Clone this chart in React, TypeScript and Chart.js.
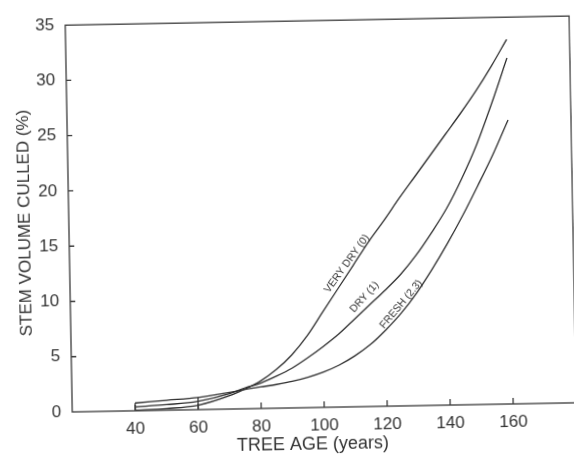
import React, { useEffect, useRef } from "react";
import { Chart, registerables } from "chart.js";

Chart.register(...registerables);

// ---- data ----
const ages = [40, 50, 60, 70, 75, 80, 85, 90, 95, 100, 105, 110, 115, 120, 125, 130, 135, 140, 145, 150, 155, 160];
const veryDry = [0.05, 0.15, 0.4, 1.2, 1.8, 2.5, 3.5, 4.8, 6.5, 8.6, 10.7, 12.8, 14.9, 16.8, 18.8, 20.7, 22.6, 24.5, 26.4, 28.4, 30.6, 33.0];
const dry = [0.35, 0.5, 0.75, 1.4, 1.9, 2.3, 2.9, 3.6, 4.5, 5.5, 6.6, 7.9, 9.2, 10.5, 11.9, 13.6, 15.6, 17.8, 20.5, 23.6, 27.3, 31.3];
const fresh = [0.7, 0.9, 1.1, 1.5, 1.75, 1.95, 2.15, 2.4, 2.75, 3.2, 3.8, 4.6, 5.6, 6.9, 8.4, 10.2, 12.3, 14.6, 17.1, 19.8, 22.6, 25.7];
const bracketAges = [40, 40, 50, 60, 60];
const bracketValues = [0, 0.7, null, 1.1, 0];
const xTickValues = [40, 60, 80, 100, 120, 140, 160];
const yTickValues = [0, 5, 10, 15, 20, 25, 30, 35];
const curveNames = ["VERY DRY (0)", "DRY (1)", "FRESH (2.3)"];
const xTitle = "TREE AGE (years)";
const yTitle = "STEM VOLUME CULLED (%)";

const FONT = "'Liberation Sans', Arial, Helvetica, sans-serif";
const INK = "#2e2e2e";

const toPts = (xs: number[], ys: (number | null)[]) => xs.map((x, i) => ({ x, y: ys[i] }));

const decorPlugin = {
  id: "decor",
  afterDraw(chart: any) {
    const { ctx, chartArea: a, scales } = chart;
    const x = scales.x;
    const y = scales.y;
    ctx.save();
    // frame
    ctx.strokeStyle = "#3a3a3a";
    ctx.lineWidth = 1.3;
    ctx.strokeRect(a.left, a.top, a.right - a.left, a.bottom - a.top);
    // inward tick marks
    ctx.beginPath();
    x.ticks.forEach((t: any) => {
      const px = x.getPixelForValue(t.value);
      ctx.moveTo(px, a.bottom);
      ctx.lineTo(px, a.bottom - 6);
    });
    y.ticks.forEach((t: any) => {
      if (t.value <= 0 || t.value >= 35) return;
      const py = y.getPixelForValue(t.value);
      ctx.moveTo(a.left, py);
      ctx.lineTo(a.left + 5, py);
    });
    ctx.stroke();

    // curve labels
    const opts = chart.options.plugins.decor;
    ctx.fillStyle = "#333";
    ctx.font = `10.5px ${FONT}`;
    ctx.textAlign = "center";
    ctx.textBaseline = "middle";
    opts.labels.forEach((l: any, i: number) => {
      const px = x.getPixelForValue(l.at[0]);
      const py = y.getPixelForValue(l.at[1]);
      ctx.save();
      ctx.translate(px, py);
      ctx.rotate((l.angle * Math.PI) / 180);
      ctx.fillText(curveNames[i], 0, 0);
      ctx.restore();
    });

    // axis titles
    ctx.fillStyle = "#333";
    ctx.font = `18px ${FONT}`;
    ctx.textAlign = "center";
    ctx.textBaseline = "middle";
    ctx.fillText(xTitle, a.left + 240, a.bottom + 37);
    ctx.save();
    ctx.translate(25, a.top + 197);
    ctx.rotate(-Math.PI / 2);
    ctx.font = `17px ${FONT}`;
    ctx.fillText(yTitle, 0, 0);
    ctx.restore();

    ctx.restore();
  },
};

export default function App() {
  const ref = useRef<HTMLCanvasElement | null>(null);

  useEffect(() => {
    if (!ref.current) return;
    const lineStyle = {
      borderColor: INK,
      borderWidth: 1.3,
      pointRadius: 0,
      fill: false,
      cubicInterpolationMode: "monotone" as const,
    };
    const chart = new Chart(ref.current, {
      type: "line",
      data: {
        datasets: [
          { label: curveNames[0], data: toPts(ages, veryDry), ...lineStyle },
          { label: curveNames[1], data: toPts(ages, dry), ...lineStyle },
          { label: curveNames[2], data: toPts(ages, fresh), ...lineStyle },
          {
            label: "bracket",
            data: toPts(bracketAges, bracketValues),
            borderColor: INK,
            borderWidth: 1.2,
            pointRadius: 0,
            tension: 0,
            spanGaps: false,
          },
        ],
      },
      options: {
        responsive: false,
        animation: false,
        events: [],
        layout: { padding: { top: 16, right: 1, left: 0, bottom: 0 } },
        plugins: {
          legend: { display: false },
          tooltip: { enabled: false },
          decor: {
            labels: [
              { at: [108, 12.95], angle: -53 },
              { at: [113.4, 9.9], angle: -47 },
              { at: [125, 9.2], angle: -49 },
            ],
          },
        } as any,
        scales: {
          x: {
            type: "linear",
            min: 20,
            max: 180,
            grid: { display: false, drawTicks: false },
            border: { display: false },
            afterBuildTicks: (s: any) => {
              s.ticks = xTickValues.map((v) => ({ value: v }));
            },
            afterFit: (s: any) => {
              s.height = 53;
            },
            ticks: {
              color: "#333",
              padding: 8,
              maxRotation: 0,
              autoSkip: false,
              font: { family: FONT, size: 17 },
            },
          },
          y: {
            type: "linear",
            min: 0,
            max: 35,
            grid: { display: false, drawTicks: false },
            border: { display: false },
            afterBuildTicks: (s: any) => {
              s.ticks = yTickValues.map((v) => ({ value: v }));
            },
            afterFit: (s: any) => {
              s.width = 69;
            },
            ticks: {
              color: "#333",
              padding: 11,
              font: { family: FONT, size: 17 },
            },
          },
        },
      },
      plugins: [decorPlugin],
    });
    return () => chart.destroy();
  }, []);

  return (
    <div
      style={{
        position: "fixed",
        left: 0,
        top: 0,
        width: 574,
        height: 461,
        overflow: "hidden",
        background: "#fff",
      }}
    >
      <canvas
        ref={ref}
        width={574}
        height={461}
        style={{
          display: "block",
          width: 574,
          height: 461,
          transform: "rotate(-1.04deg)",
          transformOrigin: "287px 230px",
        }}
      />
    </div>
  );
}
